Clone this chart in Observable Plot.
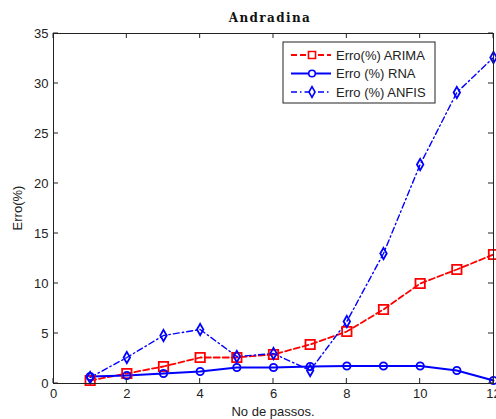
<!DOCTYPE html>
<html><head><meta charset="utf-8">
<script src="https://cdn.jsdelivr.net/npm/d3@7"></script>
<script src="https://cdn.jsdelivr.net/npm/@observablehq/plot@0.6"></script>
<style>body{margin:0;background:#fff}svg{display:block}</style>
</head><body><div id="chart"></div>
<script>
const steps = [1,2,3,4,5,6,7,8,9,10,11,12];
const arima = [0.3,1.0,1.7,2.6,2.6,2.9,3.9,5.2,7.4,10.0,11.4,12.9];
const rna = [0.7,0.8,1.0,1.2,1.6,1.6,1.7,1.75,1.75,1.75,1.3,0.3];
const anfis = [0.6,2.6,4.8,5.4,2.7,3.0,1.3,6.2,13.0,21.9,29.1,32.6];
const xTicks = [0,2,4,6,8,10,12];
const yTicks = [0,5,10,15,20,25,30,35];
const seriesNames = ["Erro(%) ARIMA","Erro (%) RNA","Erro (%) ANFIS"];
const titleText = "Andradina";
const xLabel = "No de passos.";
const yLabel = "Erro(%)";

const styles = [
  {color:"#ff0000", dash:"6,3", width:1.8, symbol:"square", r:5.3, lr:4},
  {color:"#0000ff", dash:null, width:2, symbol:"circle", r:3.7, lr:3.3},
  {color:"#0000ff", dash:"6,3,1.5,3", width:1.4, symbol:"diamond", r:3.4, lr:3.2}
];
const seriesVals = [arima, rna, anfis];
const rows = seriesVals.map((vals,i)=>vals.map((v,j)=>({x:steps[j], y:v, s:i})));

const font = "Arial, 'Liberation Sans', sans-serif";
const marks = [];
rows.forEach((data,i)=>{
  const st = styles[i];
  marks.push(Plot.line(data,{x:"x",y:"y",stroke:st.color,strokeWidth:st.width,strokeDasharray:st.dash}));
});
rows.forEach((data,i)=>{
  const st = styles[i];
  marks.push(Plot.dot(data,{x:"x",y:"y",stroke:st.color,fill:"none",strokeWidth:1.8,symbol:st.symbol,r:st.r}));
});
marks.push(Plot.axisX(xTicks,{tickSize:0,tickPadding:5,fontSize:13,fill:"#222",label:null}));
marks.push(Plot.axisY(yTicks,{tickSize:0,tickPadding:5,fontSize:13,fill:"#222",label:null}));
marks.push(Plot.frame({stroke:"#222",strokeWidth:1}));

const chart = Plot.plot({
  width:496, height:419,
  marginLeft:53, marginRight:3, marginTop:33, marginBottom:36,
  style:{fontFamily:font, background:"#fff", overflow:"visible"},
  x:{domain:[0,12]},
  y:{domain:[0,35]},
  marks
});
document.getElementById("chart").appendChild(chart);

const svg = d3.select(chart);
const xs = chart.scale("x"), ys = chart.scale("y");
const X = v=>xs.apply(v), Y = v=>ys.apply(v);
const x0 = X(0), x1 = X(12), y0 = Y(0), y1 = Y(35);
const tk = 5;
const g = svg.append("g").attr("stroke","#222").attr("stroke-width",1);
xTicks.forEach(t=>{
  g.append("line").attr("x1",X(t)).attr("x2",X(t)).attr("y1",y0).attr("y2",y0-tk);
  g.append("line").attr("x1",X(t)).attr("x2",X(t)).attr("y1",y1).attr("y2",y1+tk);
});
yTicks.forEach(t=>{
  g.append("line").attr("y1",Y(t)).attr("y2",Y(t)).attr("x1",x0).attr("x2",x0+tk);
  g.append("line").attr("y1",Y(t)).attr("y2",Y(t)).attr("x1",x1).attr("x2",x1-tk);
});

svg.append("text").attr("x",(x0+x1)/2-3).attr("y",22).attr("text-anchor","middle")
  .attr("font-family","'DejaVu Serif', 'Liberation Serif', serif").attr("font-weight","bold")
  .attr("font-size",12).attr("letter-spacing","1.4px").attr("fill","#111").text(titleText);
svg.append("text").attr("x",(x0+x1)/2).attr("y",416).attr("text-anchor","middle")
  .attr("font-family",font).attr("font-size",13).attr("fill","#222").text(xLabel);
svg.append("text").attr("transform",`translate(22,${(y0+y1)/2}) rotate(-90)`).attr("text-anchor","middle")
  .attr("font-family",font).attr("font-size",13).attr("fill","#222").text(yLabel);

// legend
const lg = svg.append("g");
lg.append("rect").attr("x",283).attr("y",42).attr("width",152).attr("height",61)
  .attr("fill","#fff").attr("stroke","#222").attr("stroke-width",1);
const symFor = {square:d3.symbolSquare, circle:d3.symbolCircle, diamond:d3.symbolDiamond};
seriesNames.forEach((name,i)=>{
  const st = styles[i];
  const yy = 55 + i*18.5;
  lg.append("line").attr("x1",291).attr("x2",331).attr("y1",yy).attr("y2",yy)
    .attr("stroke",st.color).attr("stroke-width",st.width).attr("stroke-dasharray",st.dash);
  lg.append("path").attr("transform",`translate(312,${yy})`)
    .attr("d",d3.symbol(symFor[st.symbol], Math.PI*st.lr*st.lr)())
    .attr("fill","#fff").attr("stroke",st.color).attr("stroke-width",1.6);
  lg.append("text").attr("x",336).attr("y",yy).attr("dy","0.35em").attr("text-anchor","start")
    .attr("font-family",font).attr("font-size",13).attr("fill","#222").text(name);
});
</script></body></html>
